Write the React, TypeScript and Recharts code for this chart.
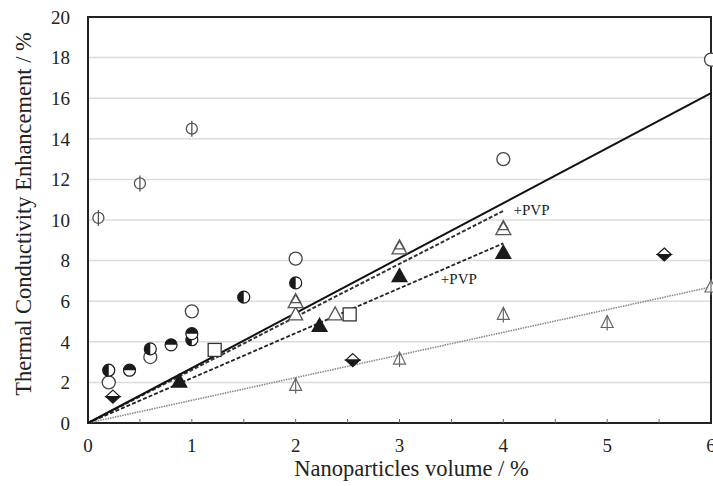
import React from 'react'
import {
  ScatterChart,
  Scatter,
  XAxis,
  YAxis,
  CartesianGrid,
  ReferenceLine,
  ReferenceArea,
  ReferenceDot,
} from 'recharts'

const phiCircles = [
  { x: 0.1, y: 10.1 },
  { x: 0.5, y: 11.8 },
  { x: 1.0, y: 14.5 },
]
const openCircles = [
  { x: 0.2, y: 2.0 },
  { x: 0.6, y: 3.25 },
  { x: 1.0, y: 5.5 },
  { x: 2.0, y: 8.1 },
  { x: 4.0, y: 13.0 },
  { x: 6.0, y: 17.9 },
]
const halfLeftCircles = [
  { x: 0.2, y: 2.6 },
  { x: 0.6, y: 3.65 },
  { x: 1.0, y: 4.1 },
  { x: 1.5, y: 6.2 },
  { x: 2.0, y: 6.9 },
]
const halfTopCircles = [
  { x: 0.4, y: 2.6 },
  { x: 0.8, y: 3.85 },
  { x: 1.0, y: 4.4 },
]
const squares = [
  { x: 1.22, y: 3.6 },
  { x: 2.52, y: 5.35 },
]
const filledTriangles = [
  { x: 0.88, y: 2.1 },
  { x: 2.23, y: 4.85 },
  { x: 3.0, y: 7.3 },
  { x: 4.0, y: 8.45 },
]
const doubleTriangles = [
  { x: 2.0, y: 6.05 },
  { x: 3.0, y: 8.7 },
  { x: 4.0, y: 9.65 },
]
const openTriangles = [
  { x: 2.0, y: 5.4 },
  { x: 2.38, y: 5.4 },
]
const arrowTriangles = [
  { x: 2.0, y: 1.9 },
  { x: 3.0, y: 3.2 },
  { x: 4.0, y: 5.4 },
  { x: 5.0, y: 5.0 },
  { x: 6.0, y: 6.75 },
]
const halfDiamonds = [
  { x: 0.24, y: 1.3 },
  { x: 2.55, y: 3.1 },
  { x: 5.55, y: 8.3 },
]

// fitted lines through the origin (end points)
const solidFit = [{ x: 0, y: 0 }, { x: 6, y: 16.25 }]
const pvpUpperFit = [{ x: 0, y: 0 }, { x: 4, y: 10.45 }]
const pvpLowerFit = [{ x: 0, y: 0 }, { x: 4, y: 8.85 }]
const dottedFit = [{ x: 0, y: 0 }, { x: 6, y: 6.7 }]

const pvpLabels = [
  { x: 4.05, y: 10.5 },
  { x: 3.35, y: 7.1 },
]

const xTicks = [0, 0.5, 1, 1.5, 2, 2.5, 3, 3.5, 4, 4.5, 5, 5.5, 6]
const yTicks = [0, 2, 4, 6, 8, 10, 12, 14, 16, 18, 20]

const FONT = '"Liberation Serif", "DejaVu Serif", serif'
const INK = '#1a1a1a'
const GREY = '#555'

const triPath = (cx: number, cy: number, w: number, h: number) =>
  `M${cx},${cy - h / 2} L${cx + w / 2},${cy + h / 2} L${cx - w / 2},${cy + h / 2} Z`

const PhiCircle = ({ cx, cy }: any) => (
  <g>
    <circle cx={cx} cy={cy} r={5.5} fill="#fff" stroke={GREY} strokeWidth={1.3} />
    <line x1={cx} y1={cy - 8} x2={cx} y2={cy + 8} stroke={GREY} strokeWidth={1.3} />
  </g>
)

const OpenCircle = ({ cx, cy }: any) => (
  <circle cx={cx} cy={cy} r={6.5} fill="#fff" stroke={'#444'} strokeWidth={1.3} />
)

const HalfLeftCircle = ({ cx, cy }: any) => (
  <g>
    <circle cx={cx} cy={cy} r={6} fill="#fff" stroke={INK} strokeWidth={1.2} />
    <path d={`M${cx},${cy - 6} A6,6 0 0 0 ${cx},${cy + 6} Z`} fill={INK} />
  </g>
)

const HalfTopCircle = ({ cx, cy }: any) => (
  <g>
    <circle cx={cx} cy={cy} r={6} fill="#fff" stroke={INK} strokeWidth={1.2} />
    <path d={`M${cx - 6},${cy} A6,6 0 0 1 ${cx + 6},${cy} Z`} fill={INK} />
  </g>
)

const Square = ({ cx, cy }: any) => (
  <rect x={cx - 6.5} y={cy - 6.5} width={13} height={13} fill="#fff" stroke="#333" strokeWidth={1.3} />
)

const FilledTriangle = ({ cx, cy }: any) => <path d={triPath(cx, cy, 17, 15)} fill={INK} />

const OpenTriangle = ({ cx, cy }: any) => (
  <path d={triPath(cx, cy, 14, 13)} fill="#fff" stroke="#555" strokeWidth={1.3} />
)

const DoubleTriangle = ({ cx, cy }: any) => (
  <g fill="none" stroke="#555" strokeWidth={1.3}>
    <path d={triPath(cx, cy + 1, 15, 13)} fill="#fff" />
    <path d={triPath(cx, cy - 2, 10, 9)} />
  </g>
)

const ArrowTriangle = ({ cx, cy }: any) => (
  <g stroke="#666" strokeWidth={1.2}>
    <path d={triPath(cx, cy, 12, 12)} fill="#fff" />
    <line x1={cx} y1={cy - 6} x2={cx} y2={cy + 9} />
  </g>
)

const HalfDiamond = ({ cx, cy }: any) => (
  <g>
    <path d={`M${cx},${cy - 6.5} L${cx + 7},${cy} L${cx - 7},${cy} Z`} fill="#fff" stroke={INK} strokeWidth={1.2} />
    <path d={`M${cx - 7},${cy} L${cx + 7},${cy} L${cx},${cy + 6.5} Z`} fill={INK} stroke={INK} strokeWidth={1.2} />
  </g>
)

const XTick = ({ x, y, payload }: any) => {
  const v = payload.value
  const isInt = Number.isInteger(v)
  return (
    <g>
      {v > 0 && v < 6 && <line x1={x} y1={y - 4} x2={x} y2={y} stroke="#666" strokeWidth={1} />}
      {isInt && (
        <text x={x} y={y + 29} textAnchor="middle" fontFamily={FONT} fontSize={19} fill="#222">
          {v}
        </text>
      )}
    </g>
  )
}

export default function App() {
  return (
    <div style={{ position: 'absolute', left: 0, top: 0, background: '#fff' }}>
      <ScatterChart width={713} height={486} margin={{ top: 17, right: 2, bottom: 0, left: 0 }}>
        <CartesianGrid horizontal vertical={false} stroke="#dcdcdc" strokeWidth={1.5} />
        <XAxis
          type="number"
          dataKey="x"
          domain={[0, 6]}
          ticks={xTicks}
          interval={0}
          height={63}
          tickSize={0}
          tickMargin={0}
          axisLine={false}
          tickLine={false}
          tick={<XTick />}
          label={{
            value: 'Nanoparticles volume / %',
            position: 'center',
            dx: 12,
            dy: 14,
            style: { fontFamily: FONT, fontSize: 22.5, fill: '#222' },
          }}
        />
        <YAxis
          type="number"
          dataKey="y"
          domain={[0, 20]}
          ticks={yTicks}
          interval={0}
          width={88}
          tickSize={0}
          tickMargin={18}
          axisLine={false}
          tickLine={false}
          tick={{ fontFamily: FONT, fontSize: 19, fill: '#222' }}
          label={{
            value: 'Thermal Conductivity Enhancement / %',
            angle: -90,
            position: 'center',
            dx: -21,
            dy: -6,
            style: { fontFamily: FONT, fontSize: 22.5, fill: '#222', textAnchor: 'middle' },
          }}
        />

        <ReferenceLine segment={dottedFit} stroke="#8a8a8a" strokeWidth={1.6} strokeDasharray="1.5 1" />
        <ReferenceLine segment={pvpLowerFit} stroke="#222" strokeWidth={1.8} strokeDasharray="4 2" />
        <ReferenceLine segment={pvpUpperFit} stroke="#333" strokeWidth={2} strokeDasharray="4 2" />
        <ReferenceLine segment={solidFit} stroke="#111" strokeWidth={2} />

        <Scatter data={phiCircles} shape={<PhiCircle />} isAnimationActive={false} />
        <Scatter data={openCircles} shape={<OpenCircle />} isAnimationActive={false} />
        <Scatter data={halfLeftCircles} shape={<HalfLeftCircle />} isAnimationActive={false} />
        <Scatter data={halfTopCircles} shape={<HalfTopCircle />} isAnimationActive={false} />
        <Scatter data={squares} shape={<Square />} isAnimationActive={false} />
        <Scatter data={openTriangles} shape={<OpenTriangle />} isAnimationActive={false} />
        <Scatter data={doubleTriangles} shape={<DoubleTriangle />} isAnimationActive={false} />
        <Scatter data={arrowTriangles} shape={<ArrowTriangle />} isAnimationActive={false} />
        <Scatter data={halfDiamonds} shape={<HalfDiamond />} isAnimationActive={false} />
        <Scatter data={filledTriangles} shape={<FilledTriangle />} isAnimationActive={false} />

        {pvpLabels.map((p, i) => (
          <ReferenceDot
            key={i}
            x={p.x}
            y={p.y}
            r={0}
            stroke="none"
            label={{
              value: '+PVP',
              position: 'right',
              style: { fontFamily: FONT, fontSize: 15, fill: '#222' },
            }}
          />
        ))}

        <ReferenceArea x1={0} x2={6} y1={0} y2={20} fill="none" stroke="#222" strokeWidth={2} ifOverflow="visible" />
      </ScatterChart>
    </div>
  )
}
